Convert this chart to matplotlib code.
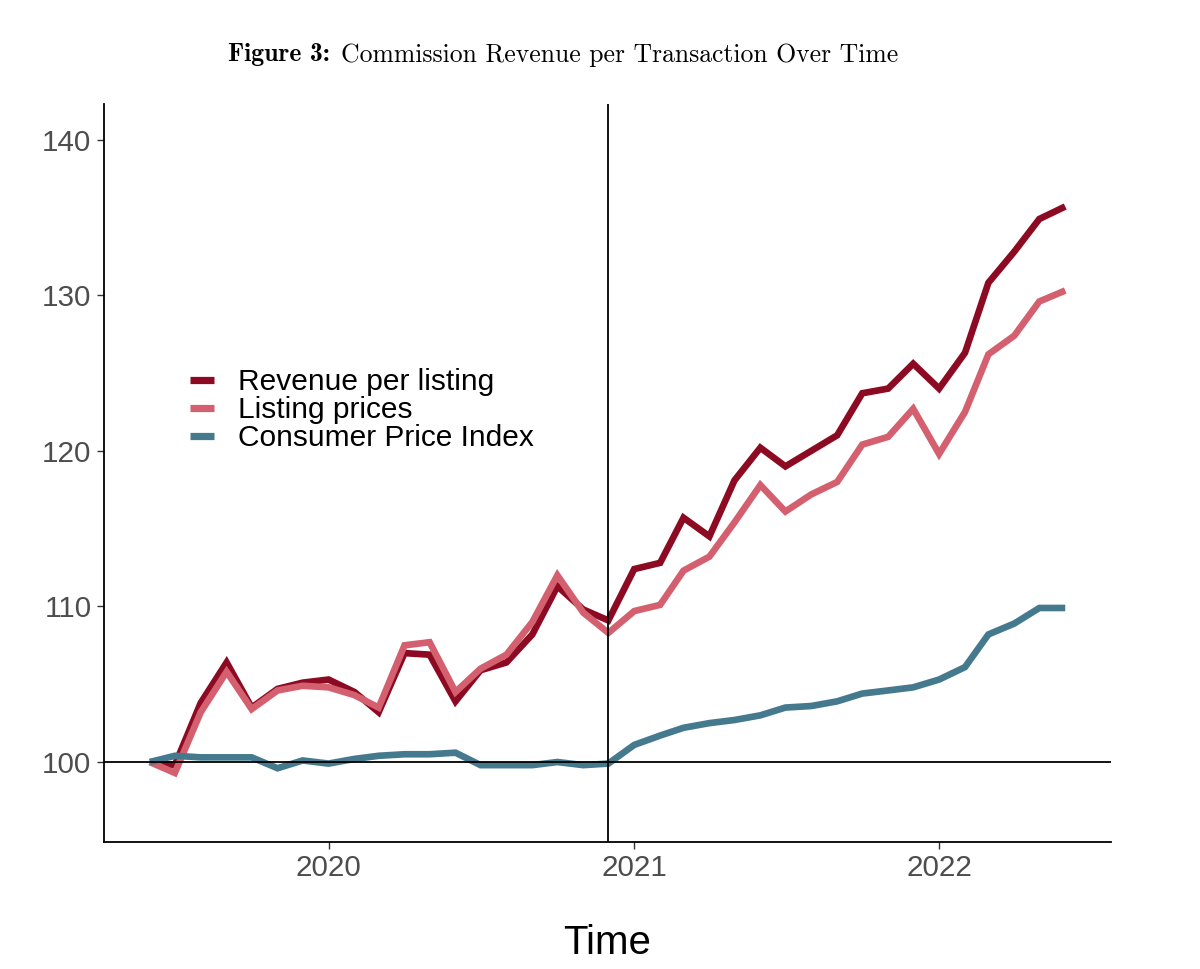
import matplotlib
matplotlib.use("Agg")
import matplotlib.pyplot as plt
import matplotlib.dates as mdates
import pandas as pd
import numpy as np

# ---- data ----
start_month = "2019-06-01"
n_months = 37
revenue = [100.0, 99.8, 103.8, 106.4, 103.5, 104.7, 105.1, 105.3, 104.5, 103.2,
           107.0, 106.9, 103.9, 105.9, 106.4, 108.2, 111.3, 109.8, 109.1, 112.4,
           112.8, 115.7, 114.5, 118.1, 120.2, 119.0, 120.0, 121.0, 123.7, 124.0,
           125.6, 124.0, 126.3, 130.8, 132.8, 134.9, 135.7]
listing = [100.0, 99.3, 103.2, 105.8, 103.4, 104.6, 104.9, 104.8, 104.3, 103.5,
           107.5, 107.7, 104.5, 106.0, 106.9, 109.0, 112.0, 109.6, 108.3, 109.7,
           110.1, 112.3, 113.2, 115.4, 117.8, 116.1, 117.2, 118.0, 120.4, 120.9,
           122.7, 119.8, 122.5, 126.2, 127.4, 129.6, 130.3]
cpi = [100.0, 100.4, 100.3, 100.3, 100.3, 99.6, 100.1, 99.9, 100.2, 100.4,
       100.5, 100.5, 100.6, 99.8, 99.8, 99.8, 100.0, 99.8, 99.9, 101.1,
       101.7, 102.2, 102.5, 102.7, 103.0, 103.5, 103.6, 103.9, 104.4, 104.6,
       104.8, 105.3, 106.1, 108.2, 108.9, 109.9, 109.9]
series_labels = ["Revenue per listing", "Listing prices", "Consumer Price Index"]
series_colors = ["#8C0A22", "#D4606F", "#457A8E"]
x_ticks = ["2020-01-01", "2021-01-01", "2022-01-01"]
x_tick_labels = ["2020", "2021", "2022"]
y_ticks = [100, 110, 120, 130, 140]
vline_date = "2020-12-01"
hline_value = 100
title_bold = "Figure 3:"
title_rest = "Commission Revenue per Transaction Over Time"

dates = pd.date_range(start_month, periods=n_months, freq="MS")

fig = plt.figure(figsize=(12, 9.69), dpi=100)
ax = fig.add_axes([104/1200, 1-842/969, (1111-104)/1200, (842-104)/969])

sans = ["Liberation Sans", "DejaVu Sans"]

for vals, lab, col in zip([revenue, listing, cpi], series_labels, series_colors):
    ax.plot(dates, vals, color=col, lw=4.8, label=lab, solid_capstyle="butt",
            solid_joinstyle="miter", zorder=2)

ax.axhline(hline_value, color="black", lw=1.3, zorder=3)
ax.axvline(pd.Timestamp(vline_date), color="black", lw=1.3, zorder=3)

# limits
xn = mdates.date2num(dates)
span = xn[-1] - xn[0]
ax.set_xlim(xn[0] - 0.05*span, xn[-1] + 0.05*span)
ax.set_ylim(94.86, 142.29)

ax.set_xticks([mdates.date2num(pd.Timestamp(t)) for t in x_ticks])
ax.set_xticklabels(x_tick_labels)
ax.set_yticks(y_ticks)
ax.set_yticklabels([str(v) for v in y_ticks])
for lbl in ax.get_xticklabels() + ax.get_yticklabels():
    lbl.set_fontfamily(sans)
    lbl.set_fontsize(21.3)
    lbl.set_color("#4D4D4D")
ax.tick_params(axis="both", length=5, width=1, color="#333333", pad=4)

for s in ["top", "right"]:
    ax.spines[s].set_visible(False)
for s in ["left", "bottom"]:
    ax.spines[s].set_linewidth(1.3)
    ax.spines[s].set_color("black")

ax.set_xlabel("Time", fontfamily=sans, fontsize=29, labelpad=30)

leg = ax.legend(loc="center left", bbox_to_anchor=(190/1200, 1-410/969),
                bbox_transform=fig.transFigure, frameon=False,
                prop={"family": sans, "size": 21.5}, handlelength=0.8,
                handletextpad=0.8, labelspacing=0.0, borderaxespad=0,
                borderpad=0)
for h in leg.get_lines():
    h.set_linewidth(5.2)

# title: bold part + regular part, centred together
fs_title = 18.5
t1 = fig.text(0, 1-55/969, title_bold, fontfamily="cmb10", fontsize=fs_title,
              ha="left", va="center")
t2 = fig.text(0, 1-55/969, title_rest, fontfamily="cmr10", fontsize=fs_title,
              ha="left", va="center")
fig.canvas.draw()
r = fig.canvas.get_renderer()
w1 = t1.get_window_extent(r).width
w2 = t2.get_window_extent(r).width
gap = fs_title * 100 / 72 * 0.45
total = w1 + gap + w2
x0 = 563 - total / 2
t1.set_x(x0 / 1200)
t2.set_x((x0 + w1 + gap) / 1200)

fig.savefig("out.png", dpi=100)
